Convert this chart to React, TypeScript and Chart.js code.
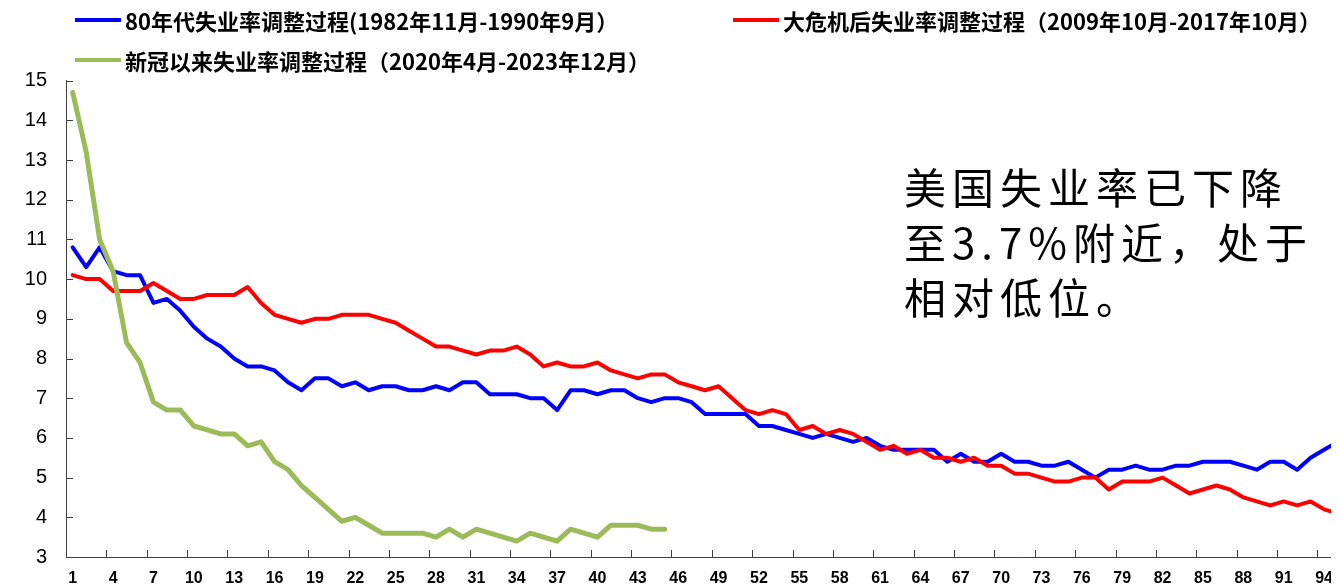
import React, { useEffect, useRef } from "react";
import { Chart, registerables } from "chart.js";

Chart.register(...registerables);

// ---- data ----
const seriesNames = [
  "80年代失业率调整过程(1982年11月-1990年9月）",
  "大危机后失业率调整过程（2009年10月-2017年10月）",
  "新冠以来失业率调整过程（2020年4月-2023年12月）",
];

const blue80s = [
  10.8, 10.3, 10.8, 10.2, 10.1, 10.1, 9.4, 9.5, 9.2, 8.8,
  8.5, 8.3, 8.0, 7.8, 7.8, 7.7, 7.4, 7.2, 7.5, 7.5,
  7.3, 7.4, 7.2, 7.3, 7.3, 7.2, 7.2, 7.3, 7.2, 7.4,
  7.4, 7.1, 7.1, 7.1, 7.0, 7.0, 6.7, 7.2, 7.2, 7.1,
  7.2, 7.2, 7.0, 6.9, 7.0, 7.0, 6.9, 6.6, 6.6, 6.6,
  6.6, 6.3, 6.3, 6.2, 6.1, 6.0, 6.1, 6.0, 5.9, 6.0,
  5.8, 5.7, 5.7, 5.7, 5.7, 5.4, 5.6, 5.4, 5.4, 5.6,
  5.4, 5.4, 5.3, 5.3, 5.4, 5.2, 5.0, 5.2, 5.2, 5.3,
  5.2, 5.2, 5.3, 5.3, 5.4, 5.4, 5.4, 5.3, 5.2, 5.4,
  5.4, 5.2, 5.5, 5.7, 5.9,
];

const redCrisis = [
  10.1, 10.0, 10.0, 9.7, 9.7, 9.7, 9.9, 9.7, 9.5, 9.5,
  9.6, 9.6, 9.6, 9.8, 9.4, 9.1, 9.0, 8.9, 9.0, 9.0,
  9.1, 9.1, 9.1, 9.0, 8.9, 8.7, 8.5, 8.3, 8.3, 8.2,
  8.1, 8.2, 8.2, 8.3, 8.1, 7.8, 7.9, 7.8, 7.8, 7.9,
  7.7, 7.6, 7.5, 7.6, 7.6, 7.4, 7.3, 7.2, 7.3, 7.0,
  6.7, 6.6, 6.7, 6.6, 6.2, 6.3, 6.1, 6.2, 6.1, 5.9,
  5.7, 5.8, 5.6, 5.7, 5.5, 5.5, 5.4, 5.5, 5.3, 5.3,
  5.1, 5.1, 5.0, 4.9, 4.9, 5.0, 5.0, 4.7, 4.9, 4.9,
  4.9, 5.0, 4.8, 4.6, 4.7, 4.8, 4.7, 4.5, 4.4, 4.3,
  4.4, 4.3, 4.4, 4.2, 4.1,
];

const greenCovid = [
  14.7, 13.2, 11.0, 10.2, 8.4, 7.9, 6.9, 6.7, 6.7, 6.3,
  6.2, 6.1, 6.1, 5.8, 5.9, 5.4, 5.2, 4.8, 4.5, 4.2,
  3.9, 4.0, 3.8, 3.6, 3.6, 3.6, 3.6, 3.5, 3.7, 3.5,
  3.7, 3.6, 3.5, 3.4, 3.6, 3.5, 3.4, 3.7, 3.6, 3.5,
  3.8, 3.8, 3.8, 3.7, 3.7,
];

const xTickLabels = [
  1, 4, 7, 10, 13, 16, 19, 22, 25, 28, 31, 34, 37, 40, 43, 46,
  49, 52, 55, 58, 61, 64, 67, 70, 73, 76, 79, 82, 85, 88, 91, 94,
];

const yTickValues = [3, 4, 5, 6, 7, 8, 9, 10, 11, 12, 13, 14, 15];

const annotationLines = ["美国失业率已下降", "至3.7%附近，处于", "相对低位。"];

const colors = ["#0000FF", "#FF0000", "#9BBB59"];
const axisColor = "#404040";

const toPoints = (vals: number[]) => vals.map((v, i) => ({ x: i + 1, y: v }));

const insideTicks = {
  id: "insideTicks",
  afterDraw(chart: any) {
    const { ctx, chartArea, scales } = chart;
    const xs = scales.x;
    const ys = scales.y;
    ctx.save();
    ctx.strokeStyle = axisColor;
    ctx.lineWidth = 1;
    ctx.beginPath();
    for (const v of yTickValues) {
      const py = Math.round(ys.getPixelForValue(v)) + 0.5;
      ctx.moveTo(chartArea.left, py);
      ctx.lineTo(chartArea.left + 7, py);
    }
    for (const v of xTickLabels.slice(1)) {
      const px = Math.round(xs.getPixelForValue(v - 0.5)) + 0.5;
      ctx.moveTo(px, chartArea.bottom);
      ctx.lineTo(px, chartArea.bottom - 7);
    }
    ctx.stroke();
    ctx.restore();
  },
};

function LineChart() {
  const ref = useRef<HTMLCanvasElement | null>(null);
  useEffect(() => {
    if (!ref.current) return;
    const chart = new Chart(ref.current, {
      type: "line",
      data: {
        datasets: [
          {
            label: seriesNames[2],
            data: toPoints(greenCovid),
            borderColor: colors[2],
            backgroundColor: colors[2],
            borderWidth: 5,
          },
          {
            label: seriesNames[1],
            data: toPoints(redCrisis),
            borderColor: colors[1],
            backgroundColor: colors[1],
            borderWidth: 4,
          },
          {
            label: seriesNames[0],
            data: toPoints(blue80s),
            borderColor: colors[0],
            backgroundColor: colors[0],
            borderWidth: 4,
          },
        ],
      },
      options: {
        responsive: false,
        animation: false,
        events: [],
        elements: {
          point: { radius: 0 },
          line: { tension: 0, borderJoinStyle: "round", borderCapStyle: "round" },
        },
        layout: { padding: { top: 72.6, left: 0, right: 0, bottom: 0 } },
        plugins: { legend: { display: false }, tooltip: { enabled: false } },
        scales: {
          x: {
            type: "linear",
            position: "bottom",
            min: 0.5,
            max: 95.11,
            bounds: "data",
            afterBuildTicks: (axis: any) => {
              axis.ticks = xTickLabels.map((v) => ({ value: v }));
            },
            afterFit: (s: any) => {
              s.height = 27;
              s.paddingLeft = 0;
              s.paddingRight = 0;
            },
            grid: { display: true, drawOnChartArea: false, drawTicks: false },
            border: { display: true, color: axisColor, width: 1 },
            ticks: {
              autoSkip: false,
              maxRotation: 0,
              minRotation: 0,
              padding: 12,
              color: "#000",
              font: { family: "'Liberation Sans', Arial, sans-serif", size: 16, weight: "bold" },
              callback: (v: any) => String(v),
            },
          },
          y: {
            type: "linear",
            min: 3,
            max: 15,
            afterFit: (s: any) => {
              s.width = 58;
              s.paddingTop = 0;
              s.paddingBottom = 0;
            },
            grid: { display: true, drawOnChartArea: false, drawTicks: false },
            border: { display: true, color: axisColor, width: 1 },
            ticks: {
              stepSize: 1,
              padding: 19,
              color: "#000",
              font: { family: "'Liberation Sans', Arial, sans-serif", size: 20 },
            },
          },
        },
      },
      plugins: [insideTicks],
    } as any);
    return () => chart.destroy();
  }, []);
  return (
    <canvas
      ref={ref}
      width={1331}
      height={576}
      style={{ position: "absolute", left: 0, top: 0, width: 1331, height: 576 }}
    />
  );
}

const legendFont: React.CSSProperties = {
  fontFamily: "'Noto Sans CJK SC', sans-serif",
  fontWeight: 700,
  fontSize: 22,
  color: "#000",
  whiteSpace: "nowrap",
  lineHeight: "24px",
};

function LegendItem({ left, top, color, text }: { left: number; top: number; color: string; text: string }) {
  return (
    <div style={{ position: "absolute", left, top, display: "flex", alignItems: "center", height: 24 }}>
      <div style={{ width: 46, height: 4, background: color, marginRight: 4 }} />
      <span style={legendFont}>{text}</span>
    </div>
  );
}

export default function App() {
  return (
    <div style={{ position: "relative", width: 1331, height: 576, overflow: "hidden", background: "#fff" }}>
      <LineChart />
      <LegendItem left={67} top={0} color={colors[0]} text={seriesNames[0]} />
      <LegendItem left={725} top={0} color={colors[1]} text={seriesNames[1]} />
      <LegendItem left={67} top={40} color={colors[2]} text={seriesNames[2]} />
      <div
        style={{
          position: "absolute",
          left: 896,
          top: 150,
          fontFamily: "'Noto Sans CJK SC', sans-serif",
          fontSize: 42,
          letterSpacing: 6,
          lineHeight: "55px",
          color: "#000",
          whiteSpace: "nowrap",
        }}
      >
        {annotationLines.map((l, i) => (
          <div key={i}>{l}</div>
        ))}
      </div>
    </div>
  );
}
